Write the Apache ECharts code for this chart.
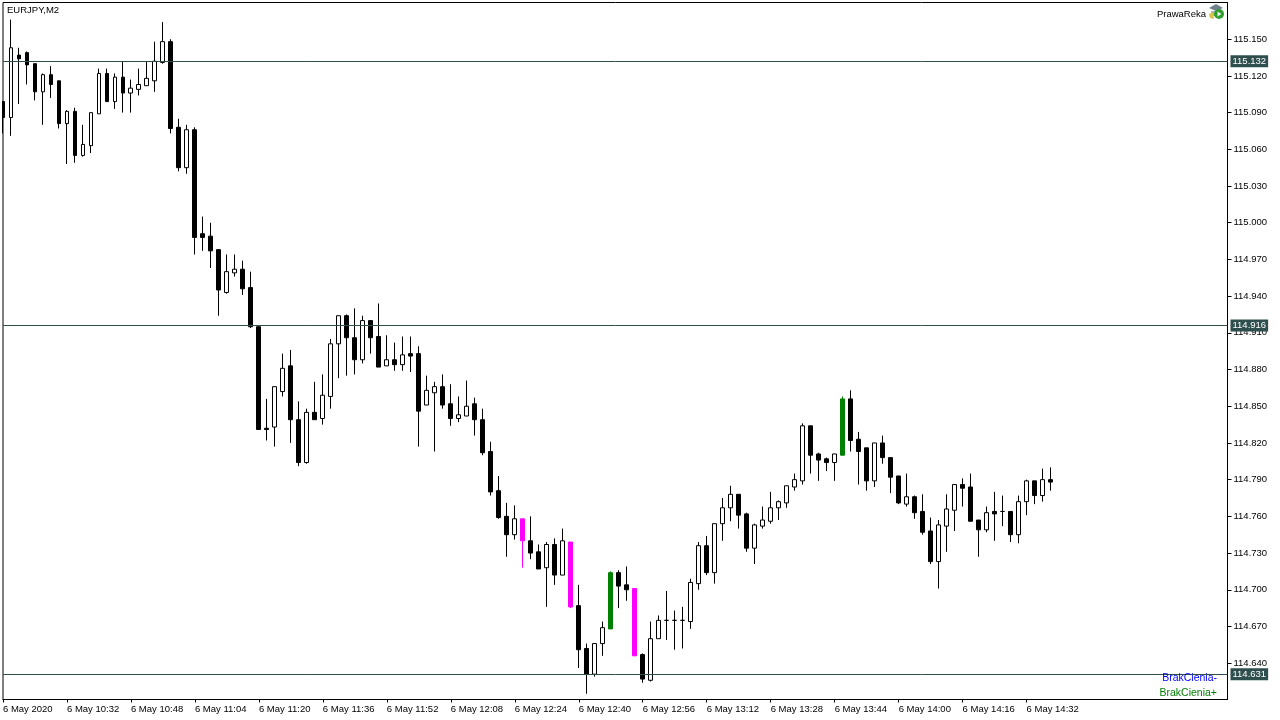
<!DOCTYPE html>
<html><head><meta charset="utf-8">
<style>html,body{margin:0;padding:0;background:#fff}#c{width:1280px;height:720px}</style>
<script src="https://cdn.jsdelivr.net/npm/echarts@6/dist/echarts.min.js"></script>
</head><body><div id="c"></div>
<script>
const opens=[115.099,115.086,115.137,115.139,115.130,115.107,115.121,115.116,115.081,115.091,115.055,115.063,115.089,115.122,115.099,115.119,115.106,115.109,115.112,115.116,115.131,115.148,115.078,115.045,115.076,114.991,114.989,114.978,114.943,114.959,114.962,114.947,114.915,114.832,114.833,114.862,114.883,114.839,114.804,114.845,114.840,114.858,114.901,114.924,114.906,114.888,114.920,114.907,114.883,114.888,114.884,114.893,114.893,114.851,114.861,114.866,114.852,114.840,114.842,114.852,114.839,114.813,114.781,114.760,114.745,114.758,114.740,114.731,114.718,114.737,114.712,114.739,114.687,114.652,114.631,114.656,114.668,114.714,114.704,114.701,114.647,114.626,114.660,114.675,114.675,114.675,114.674,114.705,114.736,114.714,114.754,114.767,114.778,114.762,114.734,114.752,114.756,114.767,114.771,114.784,114.789,114.834,114.811,114.807,114.804,114.810,114.856,114.823,114.816,114.789,114.820,114.808,114.793,114.770,114.776,114.764,114.748,114.723,114.752,114.765,114.786,114.784,114.757,114.749,114.764,114.764,114.764,114.745,114.772,114.789,114.777,114.790];
const closes=[115.086,115.143,115.134,115.129,115.107,115.121,115.113,115.081,115.091,115.055,115.064,115.090,115.122,115.099,115.119,115.106,115.110,115.113,115.118,115.132,115.148,115.077,115.045,115.076,114.988,114.988,114.977,114.945,114.960,114.962,114.946,114.915,114.831,114.831,114.866,114.881,114.839,114.804,114.845,114.839,114.859,114.901,114.924,114.906,114.888,114.920,114.906,114.882,114.888,114.884,114.892,114.891,114.846,114.863,114.866,114.851,114.840,114.843,114.850,114.839,114.812,114.780,114.759,114.745,114.758,114.740,114.730,114.717,114.737,114.712,114.740,114.686,114.651,114.631,114.656,114.669,114.714,114.703,114.700,114.646,114.627,114.660,114.675,114.675,114.675,114.675,114.706,114.736,114.714,114.754,114.767,114.778,114.761,114.734,114.753,114.757,114.767,114.772,114.785,114.790,114.834,114.810,114.806,114.804,114.811,114.856,114.822,114.813,114.789,114.820,114.808,114.792,114.771,114.776,114.763,114.747,114.723,114.753,114.766,114.786,114.783,114.756,114.749,114.763,114.762,114.764,114.745,114.772,114.789,114.777,114.790,114.788];
const lows=[115.073,115.071,115.097,115.113,115.100,115.080,115.102,115.077,115.048,115.049,115.054,115.057,115.089,115.099,115.093,115.090,115.090,115.104,115.112,115.107,115.130,115.073,115.042,115.040,114.974,114.977,114.963,114.924,114.942,114.956,114.941,114.914,114.831,114.822,114.817,114.858,114.820,114.801,114.803,114.839,114.835,114.848,114.873,114.875,114.876,114.885,114.893,114.882,114.883,114.879,114.879,114.878,114.817,114.851,114.813,114.848,114.834,114.837,114.842,114.826,114.810,114.777,114.758,114.727,114.741,114.718,114.725,114.717,114.686,114.704,114.712,114.685,114.636,114.615,114.629,114.646,114.668,114.685,114.691,114.646,114.624,114.625,114.660,114.659,114.651,114.652,114.668,114.700,114.712,114.705,114.740,114.756,114.750,114.731,114.721,114.750,114.754,114.757,114.767,114.781,114.786,114.795,114.789,114.797,114.789,114.810,114.813,114.786,114.781,114.784,114.803,114.779,114.770,114.768,114.758,114.745,114.721,114.701,114.731,114.748,114.768,114.756,114.727,114.747,114.740,114.752,114.739,114.738,114.761,114.770,114.772,114.781];
const highs=[115.099,115.166,115.143,115.140,115.130,115.122,115.128,115.116,115.092,115.094,115.080,115.090,115.126,115.126,115.122,115.132,115.117,115.126,115.132,115.148,115.164,115.150,115.085,115.080,115.078,115.005,115.000,114.978,114.974,114.974,114.969,114.960,114.915,114.856,114.866,114.893,114.896,114.854,114.848,114.870,114.876,114.905,114.924,114.925,114.930,114.924,114.920,114.934,114.908,114.902,114.907,114.907,114.899,114.875,114.870,114.876,114.868,114.858,114.871,114.857,114.848,114.821,114.793,114.771,114.769,114.758,114.760,114.737,114.739,114.742,114.750,114.739,114.704,114.656,114.656,114.674,114.715,114.716,114.719,114.701,114.648,114.674,114.679,114.699,114.683,114.686,114.709,114.739,114.744,114.754,114.775,114.785,114.778,114.763,114.754,114.768,114.780,114.773,114.785,114.795,114.836,114.834,114.812,114.808,114.811,114.858,114.863,114.829,114.816,114.820,114.826,114.808,114.793,114.795,114.777,114.778,114.759,114.757,114.778,114.786,114.791,114.795,114.757,114.768,114.780,114.777,114.764,114.777,114.790,114.789,114.799,114.800];
const magentaBars=[65,71,79];
const greenBars=[76,105];
const xTickLabels=['6 May 2020','6 May 10:32','6 May 10:48','6 May 11:04','6 May 11:20','6 May 11:36','6 May 11:52','6 May 12:08','6 May 12:24','6 May 12:40','6 May 12:56','6 May 13:12','6 May 13:28','6 May 13:44','6 May 14:00','6 May 14:16','6 May 14:32'];
const yTicks=[115.150,115.120,115.090,115.060,115.030,115.000,114.970,114.940,114.910,114.880,114.850,114.820,114.790,114.760,114.730,114.700,114.670,114.640];
const levels=[115.132,114.916,114.631];

const font='"Liberation Sans"';
const slate='#2f4f4f';
function tint(c){return {color:c,color0:c,borderColor:c,borderColor0:c};}
const candles=opens.map((o,i)=>{
  const d={value:[i,o,closes[i],lows[i],highs[i]]};
  if(magentaBars.includes(i)) d.itemStyle=tint('#ff00ff');
  if(greenBars.includes(i)) d.itemStyle=tint('#008000');
  return d;
});
const chart=echarts.init(document.getElementById('c'),null,{renderer:'canvas'});
chart.setOption({
  animation:false,
  backgroundColor:'#fff',
  grid:{left:2.5,top:2.5,width:1225,height:697,show:true,borderColor:'#000',borderWidth:1,backgroundColor:'#fff'},
  title:[
    {text:'EURJPY,M2',left:7,top:4,padding:0,textStyle:{fontFamily:font,fontSize:9.5,fontWeight:'normal',color:'#000',lineHeight:12}},
    {text:'PrawaReka',right:74,top:8,padding:0,textStyle:{fontFamily:font,fontSize:9.5,fontWeight:'normal',color:'#000',lineHeight:12}},
    {text:'BrakCienia-',right:63,top:672,padding:0,textStyle:{fontFamily:font,fontSize:10.5,fontWeight:'normal',color:'#0000ff',lineHeight:13}},
    {text:'BrakCienia+',right:63,top:687,padding:0,textStyle:{fontFamily:font,fontSize:10.5,fontWeight:'normal',color:'#008000',lineHeight:13}}
  ],
  xAxis:{type:'value',min:0,max:153.125,position:'bottom',
    splitLine:{show:false},
    axisLine:{show:true,onZero:false,lineStyle:{color:'#000'}},
    axisTick:{show:true,length:3,customValues:xTickLabels.map((_,k)=>k*8),lineStyle:{color:'#000'}},
    axisLabel:{show:true,customValues:xTickLabels.map((_,k)=>k*8),align:'left',margin:5,color:'#000',fontFamily:font,fontSize:9.5,
      formatter:v=>xTickLabels[Math.round(v/8)]}
  },
  yAxis:{type:'value',min:114.6103,max:115.18,position:'right',
    splitLine:{show:false},
    axisLine:{show:true,onZero:false,lineStyle:{color:'#000'}},
    axisTick:{show:true,length:4,customValues:yTicks,lineStyle:{color:'#000'}},
    axisLabel:{show:true,customValues:yTicks,margin:6,color:'#000',fontFamily:font,fontSize:9.5,
      formatter:v=>v.toFixed(3)}
  },
  series:[{
    type:'candlestick',
    barWidth:4.4,
    clip:true,
    encode:{x:0,y:[1,2,3,4]},
    itemStyle:{color:'#ffffff',color0:'#000000',borderColor:'#000000',borderColor0:'#000000',borderWidth:1},
    data:candles,
    markLine:{
      silent:true,symbol:'none',animation:false,precision:3,
      lineStyle:{color:slate,width:1,type:'solid'},
      label:{show:true,position:'end',distance:3,formatter:p=>p.value.toFixed(3),color:'#fff',backgroundColor:slate,
        fontFamily:font,fontSize:9.5,padding:[1,2,1,2]},
      data:levels.map(v=>({yAxis:v}))
    }
  }],
  graphic:[
    {type:'rect',left:0,top:0,shape:{width:2,height:720},style:{fill:'#fff'},z:100,silent:true},
    {
    type:'group',left:1209,top:4,z:100,
    children:[
      {type:'polygon',shape:{points:[[1,5],[8,1],[15,5],[8,8]]},style:{fill:'#6f7f8c'}},
      {type:'polygon',shape:{points:[[3,8],[12,8],[12,13],[3,13]]},style:{fill:'#9fb6d6'}},
      {type:'polygon',shape:{points:[[1,11],[5,9],[6,16],[2,15]]},style:{fill:'#d9c24a'}},
      {type:'circle',shape:{cx:11,cy:11,r:5},style:{fill:'#2f9e2f'}},
      {type:'polygon',shape:{points:[[9.5,8.5],[13.5,11],[9.5,13.5]]},style:{fill:'#e8f5e8'}}
    ]
  }]
});
</script></body></html>
